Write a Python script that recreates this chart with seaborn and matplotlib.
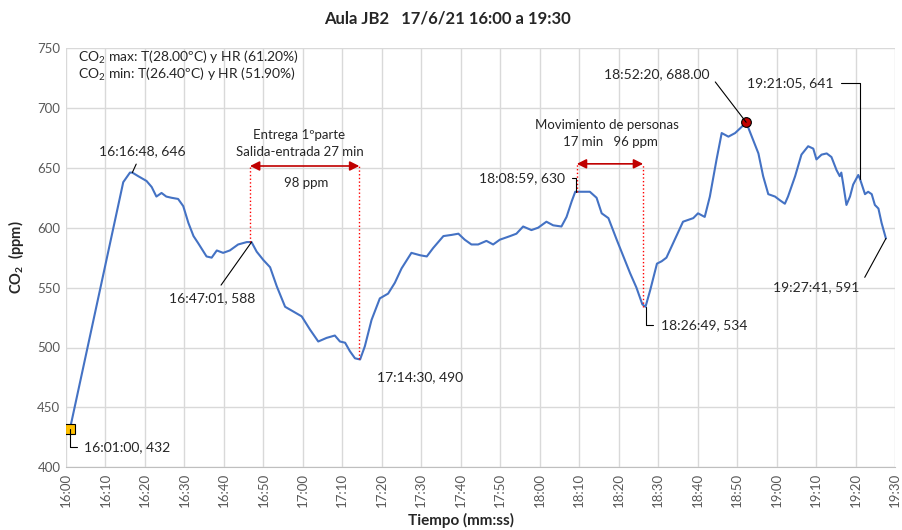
import pandas as pd
import seaborn as sns
import matplotlib.pyplot as plt

# minutos desde las 16:00 y CO2 (ppm)
minutos = [1.0, 14.5, 16.2, 16.8, 18.3, 20.4, 21.7, 22.9, 24.2, 25.4, 26.7, 28.4, 29.7,
           31.0, 32.3, 33.5, 35.6, 36.9, 38.2, 39.8, 41.5, 43.6, 45.8, 47.0, 48.3, 50.0,
           51.7, 53.4, 55.5, 57.6, 59.7, 61.8, 63.9, 66.0, 68.1, 69.4, 70.7, 71.9, 73.2,
           74.5, 75.7, 77.4, 79.5, 81.6, 83.3, 85.0, 87.5, 89.7, 91.4, 93.0, 95.6, 97.7,
           99.4, 101.0, 102.7, 104.4, 106.5, 108.2, 109.9, 112.5, 114.1, 115.8, 117.9,
           119.6, 121.7, 123.4, 125.5, 126.8, 128.1, 129.0, 131.0, 132.7, 134.4, 135.7,
           137.4, 139.5, 141.2, 142.9, 144.5, 146.0, 146.8, 148.0, 149.7, 150.9, 152.1,
           154.2, 156.3, 158.9, 160.1, 161.8, 163.1, 164.8, 166.1, 167.8, 169.5, 171.1,
           172.3, 174.1, 175.4, 176.6, 177.9, 179.6, 180.8, 182.1, 182.9, 184.7, 186.3,
           188.0, 189.3, 190.1, 191.4, 192.7, 193.9, 195.2, 196.0, 196.4, 196.9, 197.7,
           198.6, 199.4, 200.7, 201.1, 202.4, 203.2, 204.1, 204.9, 205.8, 206.6, 207.7]
co2 = [432, 638, 646, 646, 643, 639, 634, 626, 629, 626, 625, 624, 618,
       604, 593, 587, 576, 575, 581, 579, 581, 586, 588, 588, 580, 573,
       567, 551, 534, 530, 526, 515, 505, 508, 510, 505, 504, 497, 491,
       490, 501, 523, 541, 545, 554, 566, 579, 577, 576, 583, 593, 594,
       595, 590, 586, 586, 589, 586, 590, 593, 595, 601, 598,
       600, 605, 602, 601, 609, 622, 630, 630, 630, 625, 612,
       608, 590, 576, 562, 550, 536, 534, 548, 570, 572, 575,
       590, 605, 608, 612, 609, 626, 657, 679, 676, 679, 684,
       688, 673, 662, 643, 628, 626, 623, 620, 626, 643, 661,
       668, 666, 657, 661, 662, 659, 648, 643, 646, 636, 619,
       626, 636, 644, 641, 628, 630, 628, 619, 616, 604, 591]

ticks_min = list(range(0, 211, 10))
ticks_txt = ["16:00", "16:10", "16:20", "16:30", "16:40", "16:50", "17:00", "17:10",
             "17:20", "17:30", "17:40", "17:50", "18:00", "18:10", "18:20", "18:30",
             "18:40", "18:50", "19:00", "19:10", "19:20", "19:30"]

# etiquetas: texto, punto (min, ppm), posicion del texto (min, ppm), alineacion
etiquetas = [
    ("16:01:00, 432", (1.0, 432), (4.6, 417), "left"),
    ("16:16:48, 646", (16.8, 646), (19.3, 664), "center"),
    ("16:47:01, 588", (47.0, 588), (37.0, 541.5), "center"),
    ("17:14:30, 490", (74.5, 490), (89.7, 475.5), "center"),
    ("18:08:59, 630", (129.2, 630), (126.4, 641.5), "right"),
    ("18:26:49, 534", (146.8, 534), (150.7, 519), "left"),
    ("18:52:20, 688.00", (172.3, 688), (163.0, 728), "right"),
    ("19:21:05, 641", (201.1, 641), (194.5, 720.5), "right"),
    ("19:27:41, 591", (207.7, 591), (201.0, 550.5), "right"),
]

plt.rcParams["font.family"] = ["Lato", "DejaVu Sans"]
sns.set_style("whitegrid")
plt.rcParams["font.family"] = ["Lato", "DejaVu Sans"]
plt.rcParams["mathtext.fontset"] = "custom"
plt.rcParams["mathtext.rm"] = "Lato"
plt.rcParams["mathtext.bf"] = "Lato:bold"

fig = plt.figure(figsize=(9.03, 5.30), dpi=100)
ax = fig.add_axes([66 / 903, 1 - 467.3 / 530, 829 / 903, 419.3 / 530])

df = pd.DataFrame({"min": minutos, "co2": co2})
sns.lineplot(data=df, x="min", y="co2", ax=ax, color="#4472C4", linewidth=1.5)

ax.set_xlim(0, 210)
ax.set_ylim(400, 750)
ax.set_xticks(ticks_min)
ax.set_xticklabels(ticks_txt, rotation=90)
ax.set_yticks(range(400, 751, 50))
ax.tick_params(axis="both", colors="#595959", labelsize=9.5, length=0, pad=4)
ax.grid(True, color="#D9D9D9", linewidth=1)
for s in ["top", "right", "left"]:
    ax.spines[s].set_visible(False)
ax.spines["bottom"].set_color("#BFBFBF")

ax.set_xlabel("")
fig.text(461 / 903, 1 - 520 / 530, "Tiempo (mm:ss)", ha="center", va="center",
         fontsize=11, fontweight="bold")
ax.set_ylabel(r"CO$_\mathbf{2}$  (ppm)", fontsize=10.5, fontweight="bold", labelpad=8)
fig.text(447 / 903, 1 - 18 / 530, "Aula JB2   17/6/21 16:00 a 19:30", ha="center", va="center",
         fontsize=12, fontweight="bold")

# marcadores inicial y maximo
ax.plot(minutos[0], co2[0], marker="s", markersize=7, color="#FFC000", markeredgecolor="black",
        markeredgewidth=0.8)
ax.plot(172.3, 688, marker="o", markersize=7, color="#C00000", markeredgecolor="black",
        markeredgewidth=0.8)

# recuadro de texto superior
ax.text(3, 742, r"CO$_2$ max: T(28.00ºC) y HR (61.20%)", fontsize=10, va="center")
ax.text(3, 728, r"CO$_2$ min: T(26.40ºC) y HR (51.90%)", fontsize=10, va="center")

for txt, punto, pos, al in etiquetas:
    if txt.startswith("17:14"):
        ax.text(pos[0], pos[1], txt, fontsize=10, ha=al, va="center")
        continue
    rel = (1, 0.5) if al == "right" else (0, 0.5)
    if al == "center":
        rel = (0.5, 0.5)
    if txt.startswith(("16:01", "18:08", "18:26", "19:21")):
        con = "angle,angleA=0,angleB=90,rad=0"
    else:
        con = "arc3"
    ax.annotate(txt, xy=punto, xytext=pos, fontsize=10, ha=al, va="center",
                arrowprops=dict(arrowstyle="-", color="black", lw=0.8, relpos=rel,
                                connectionstyle=con, shrinkA=3, shrinkB=0))

# intervalos marcados en rojo
rojo = "#C00000"
intervalos = [((46.6, 588), (74.3, 490), 651.5), ((129.4, 630), (146.2, 534), 653.3)]
for (x1, y1), (x2, y2), ya in intervalos:
    ax.plot([x1, x1], [y1, ya], color="red", linestyle=":", linewidth=1)
    ax.plot([x2, x2], [y2, ya], color="red", linestyle=":", linewidth=1)
    ax.annotate("", xy=(x2, ya), xytext=(x1, ya),
                arrowprops=dict(arrowstyle="<|-|>", color=rojo, lw=1.2, mutation_scale=14,
                                shrinkA=0, shrinkB=0))

ax.text(59.1, 677.5, "Entrega 1ºparte", fontsize=9.5, ha="center", va="center")
ax.text(59.3, 663.3, "Salida-entrada 27 min", fontsize=9.5, ha="center", va="center")
ax.text(60.8, 637, "98 ppm", fontsize=9.5, ha="center", va="center")
ax.text(137.0, 685.5, "Movimiento de personas", fontsize=9.5, ha="center", va="center")
ax.text(137.8, 671.3, "17 min   96 ppm", fontsize=9.5, ha="center", va="center")

fig.savefig("out.png", dpi=100)
